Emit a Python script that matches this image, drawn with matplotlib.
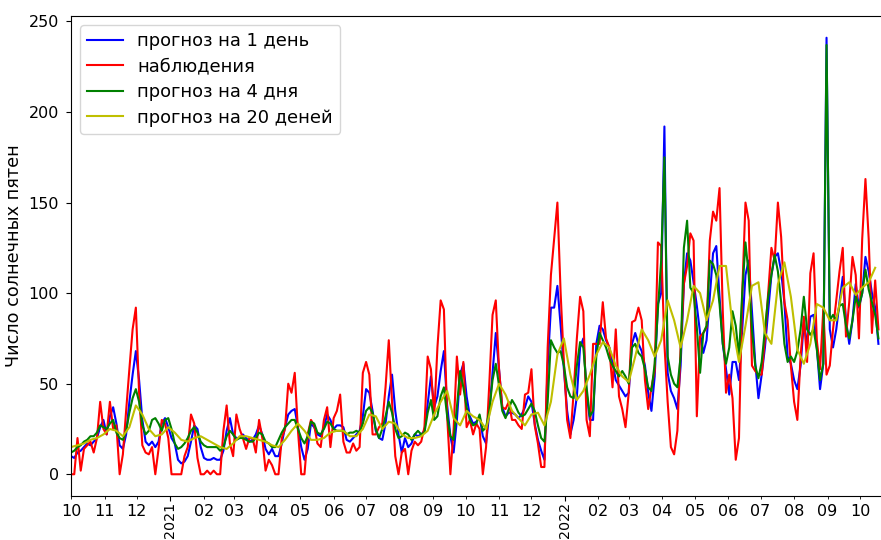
import matplotlib
matplotlib.use('Agg')
import matplotlib.pyplot as plt
import matplotlib.dates as mdates
import pandas as pd

START = '2020-10-01'

# observations (every 3 days from START)
obs = [0, 0, 20, 2, 14, 16, 18, 12, 20, 40, 25, 22, 40, 25, 27, 0, 11, 35, 58, 80, 92, 45, 16, 12, 11, 15, 0, 14, 30, 28, 20,
       0, 0, 0, 0, 10, 15, 33, 28, 9, 0, 0, 2, 0, 2, 0, 0, 24, 38, 17, 10, 33, 25, 20, 14, 20, 20, 12, 30, 20, 2, 8, 5,
       0, 0, 20, 25, 50, 45, 56, 24, 0, 0, 22, 30, 27, 17, 15, 30, 37, 15, 31, 35, 44, 18, 12, 12, 17, 13, 15, 56, 62, 55, 22, 22,
       26, 28, 48, 74, 40, 10, 0, 12, 14, 0, 13, 18, 16, 18, 26, 65, 58, 32, 70, 96, 91, 32, 0, 25, 65, 44, 62, 26, 30, 22, 28, 25,
       0, 15, 50, 88, 96, 58, 37, 36, 40, 30, 30, 27, 25, 44, 45, 58, 27, 17, 4, 4, 70, 110, 130, 150, 100, 62, 30, 20, 45, 75, 98,
       90, 30, 21, 72, 72, 72, 95, 75, 70, 48, 80, 43, 36, 26, 45, 84, 85, 92, 85, 52, 36, 48, 57, 128, 126, 72, 40, 15, 11, 24, 70, 105,
       115, 133, 129, 32, 76, 78, 81, 129, 145, 140, 158, 90, 45, 55, 42, 8, 20, 100, 150, 140, 60, 57, 55, 55, 75, 100, 125, 118, 150, 131, 95,
       85, 60, 40, 30, 65, 87, 62, 111, 122, 74, 58, 91, 55, 60, 80, 96, 112, 125, 76, 95, 120, 110, 75, 130, 163, 130, 78, 107, 80]

# 1-day forecast (every 3 days)
fc1 = [10, 9, 12, 13, 15, 17, 16, 18, 20, 26, 30, 22, 32, 37, 28, 16, 14, 22, 40, 55, 68, 52, 30, 18, 16, 18, 15, 18, 28, 31, 26,
       20, 17, 8, 6, 7, 10, 18, 27, 25, 15, 9, 8, 8, 9, 8, 8, 13, 24, 31, 22, 20, 20, 22, 20, 18, 19, 22, 27, 22, 14, 11, 14,
       10, 10, 17, 26, 33, 35, 36, 26, 15, 8, 14, 28, 26, 22, 21, 26, 33, 30, 25, 27, 27, 26, 19, 18, 20, 22, 24, 32, 47, 45, 35, 24,
       20, 19, 28, 43, 55, 35, 22, 12, 20, 15, 17, 22, 21, 22, 24, 39, 54, 37, 43, 57, 68, 38, 21, 12, 30, 55, 61, 43, 32, 28, 29, 32,
       21, 17, 34, 56, 78, 58, 37, 32, 34, 34, 33, 31, 33, 37, 43, 40, 28, 19, 13, 8, 60, 92, 92, 104, 82, 58, 35, 22, 30, 43, 70,
       75, 45, 30, 30, 72, 82, 80, 74, 70, 62, 52, 49, 46, 43, 45, 72, 78, 72, 68, 60, 45, 35, 54, 94, 100, 192, 56, 46, 42, 36, 60, 105,
       122, 118, 106, 93, 78, 67, 74, 98, 122, 126, 98, 72, 58, 44, 62, 62, 52, 80, 110, 118, 90, 62, 42, 55, 70, 90, 110, 120, 122, 112, 95,
       65, 61, 52, 47, 60, 84, 72, 87, 88, 70, 47, 61, 241, 80, 70, 80, 95, 109, 85, 72, 85, 105, 92, 100, 120, 112, 100, 92, 72]

# 4-day forecast (every 3 days)
fc4 = [12, 13, 15, 16, 18, 19, 21, 21, 23, 27, 26, 25, 28, 30, 23, 20, 19, 24, 34, 42, 47, 40, 27, 22, 24, 30, 31, 28, 24, 30, 31,
       25, 17, 14, 15, 17, 20, 24, 26, 23, 18, 16, 15, 15, 15, 15, 13, 15, 21, 24, 22, 19, 20, 20, 19, 18, 18, 20, 23, 22, 18, 17, 15,
       15, 19, 23, 26, 28, 30, 30, 25, 20, 17, 21, 29, 28, 23, 22, 25, 29, 28, 25, 24, 24, 24, 22, 23, 23, 24, 23, 28, 35, 37, 34, 25,
       20, 25, 32, 40, 34, 25, 20, 21, 23, 22, 19, 22, 24, 22, 23, 34, 41, 30, 32, 43, 48, 32, 21, 19, 37, 57, 48, 37, 30, 27, 28, 33,
       24, 26, 35, 52, 61, 49, 35, 31, 36, 41, 38, 34, 32, 33, 36, 39, 35, 27, 20, 18, 40, 74, 70, 67, 68, 60, 48, 43, 42, 60, 73,
       70, 48, 32, 35, 65, 78, 74, 70, 64, 60, 57, 54, 57, 54, 50, 70, 72, 67, 65, 58, 48, 46, 61, 91, 118, 175, 65, 55, 50, 48, 65, 125,
       140, 103, 100, 81, 56, 78, 82, 118, 116, 110, 94, 72, 61, 70, 90, 82, 65, 100, 128, 110, 80, 60, 53, 62, 80, 98, 110, 121, 112, 95, 72,
       62, 65, 62, 68, 80, 98, 80, 77, 80, 69, 52, 61, 237, 85, 88, 85, 93, 94, 82, 75, 85, 98, 93, 100, 113, 102, 95, 88, 75]

# 20-day forecast (every 6 days)
fc20 = [15, 16, 17, 19, 20, 22, 25, 24, 21, 26, 38, 33, 25, 21, 22, 26,
        23, 19, 18, 20, 21, 19, 17, 15, 14, 17, 21, 21, 20, 19, 18, 16,
        15, 19, 24, 28, 24, 19, 19, 20, 23, 24, 24, 21, 21, 25, 33, 32,
        25, 29, 28, 22, 20, 20, 21, 24, 33, 40, 46, 31, 27, 35, 32,
        30, 25, 40, 50, 44, 35, 31, 27, 33, 34, 27, 40, 66, 75, 55, 41,
        46, 55, 66, 73, 70, 60, 54, 51, 65, 80, 74, 65, 74, 96, 85,
        70, 85, 104, 100, 85, 96, 115, 115, 82, 62, 82, 104, 106, 78, 72, 105,
        117, 98, 69, 61, 72, 94, 92, 85, 85, 103, 106, 99, 103, 106, 114]

t0 = pd.Timestamp(START)
dates_obs = pd.date_range(t0, periods=len(obs), freq='3D')
dates_fc1 = pd.date_range(t0, periods=len(fc1), freq='3D')
dates_fc4 = pd.date_range(t0, periods=len(fc4), freq='3D')
dates_fc20 = pd.date_range(t0, periods=len(fc20), freq='6D')

fig = plt.figure(figsize=(8.81, 5.4), dpi=100)
ax = fig.add_axes([71 / 881, 44 / 540, 812.5 / 881, 480 / 540])
ax.plot(dates_fc1, fc1, color='b', label='прогноз на 1 день')
ax.plot(dates_obs, obs, color='r', label='наблюдения')
ax.plot(dates_fc4, fc4, color='g', label='прогноз на 4 дня')
ax.plot(dates_fc20, fc20, color='y', label='прогноз на 20 деней')

ax.set_xlim(t0, t0 + pd.Timedelta(days=751.7))
ax.set_ylim(-12, 253)
ax.xaxis.set_major_locator(mdates.YearLocator())
ax.xaxis.set_major_formatter(mdates.DateFormatter('%Y'))
ax.xaxis.set_minor_locator(mdates.MonthLocator())
ax.xaxis.set_minor_formatter(mdates.DateFormatter('%m'))
for lab in ax.xaxis.get_majorticklabels():
    lab.set_rotation(90)
ax.tick_params(axis='both', which='both', labelsize=11.5)
ax.tick_params(axis='x', which='major', labelsize=10.3, pad=0.8)
ax.tick_params(axis='y', pad=5)

ax.set_ylabel('Число солнечных пятен', fontsize=12.7)
ax.legend(loc='upper left', fontsize=12.9, labelspacing=0.42)

fig.savefig('out.png', dpi=100)
